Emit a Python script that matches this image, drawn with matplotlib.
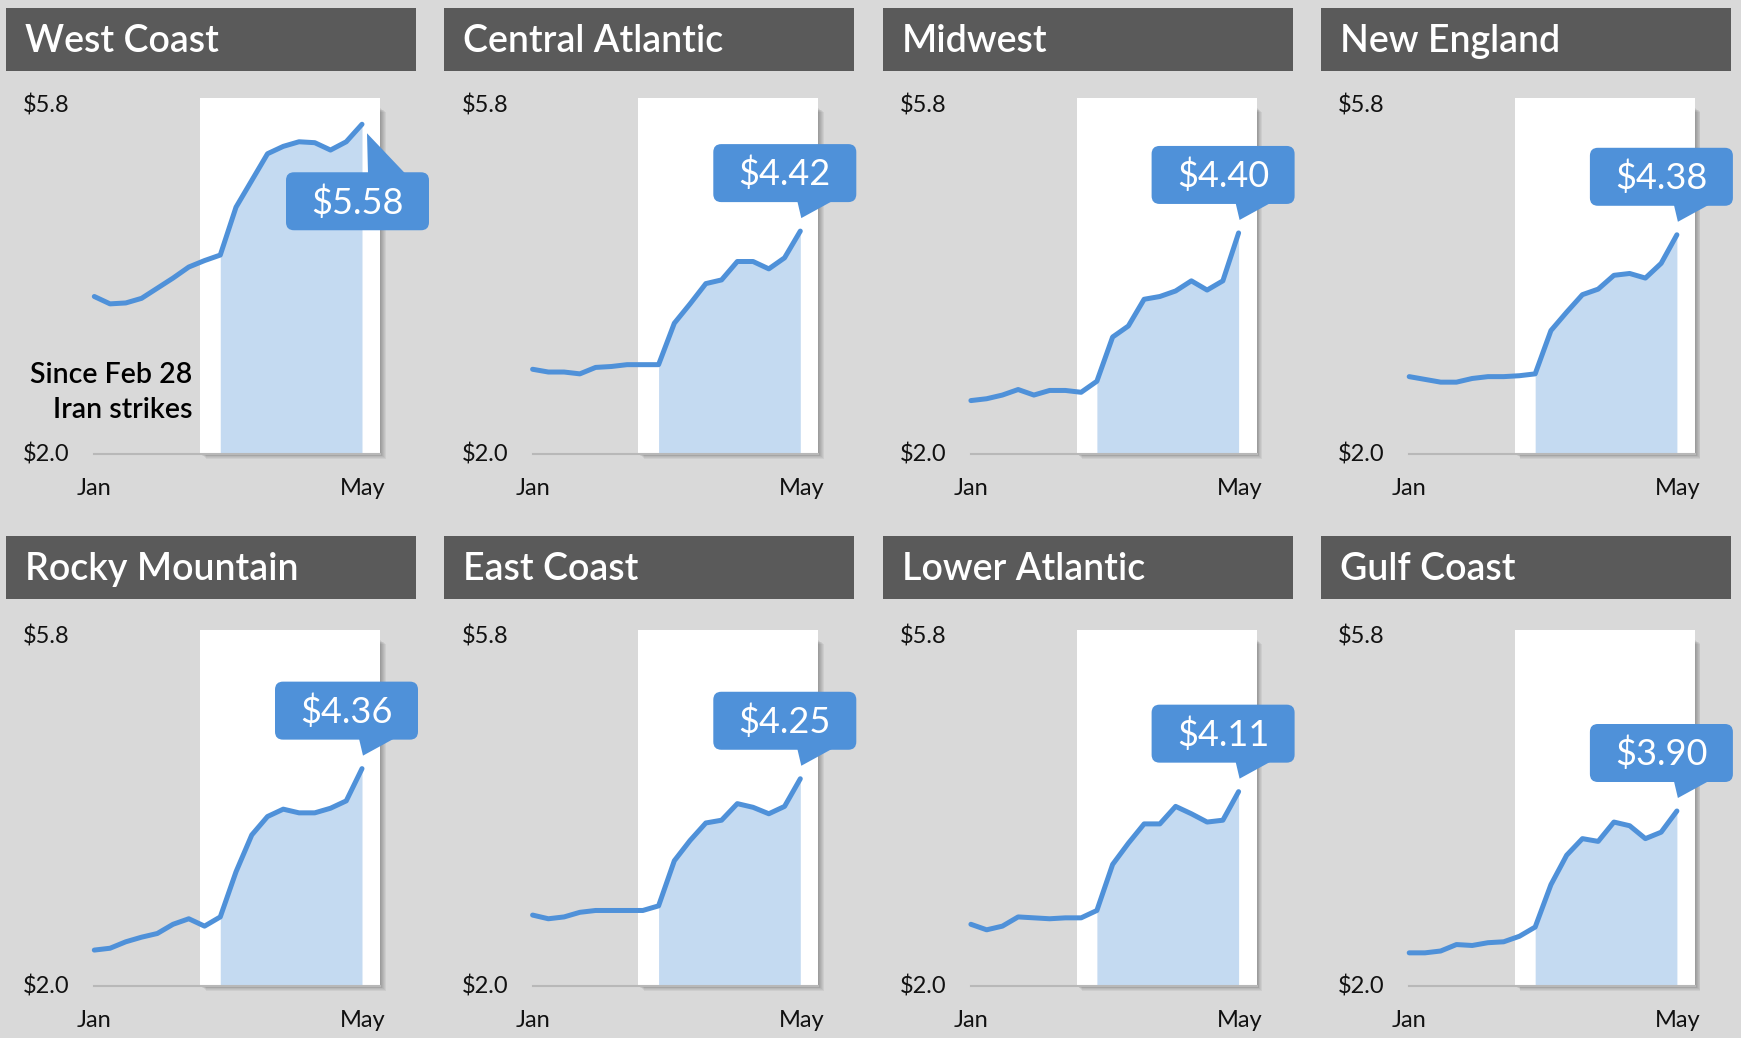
import numpy as np
import matplotlib.pyplot as plt
from matplotlib.patches import Rectangle, FancyBboxPatch, Polygon
from matplotlib.transforms import offset_copy

plt.rcParams['font.family'] = ['Lato', 'DejaVu Sans']

# weekly regional gas prices, Jan -> May
weeks = np.arange(18)
strike_week = 8           # first week after the Feb 28 strikes
highlight = (6.72, 18.15)  # white "since strikes" panel, in weeks

regions = ['West Coast', 'Central Atlantic', 'Midwest', 'New England',
           'Rocky Mountain', 'East Coast', 'Lower Atlantic', 'Gulf Coast']

west_coast = [3.71, 3.63, 3.64, 3.69, 3.80, 3.91, 4.03, 4.10, 4.16,
              4.68, 4.97, 5.26, 5.34, 5.39, 5.38, 5.30, 5.39, 5.58]
central_atlantic = [2.92, 2.89, 2.89, 2.87, 2.94, 2.95, 2.97, 2.97, 2.97,
                    3.42, 3.63, 3.85, 3.89, 4.09, 4.09, 4.01, 4.13, 4.42]
midwest = [2.58, 2.60, 2.64, 2.70, 2.64, 2.69, 2.69, 2.67, 2.79,
           3.27, 3.39, 3.68, 3.71, 3.77, 3.88, 3.78, 3.88, 4.40]
new_england = [2.84, 2.81, 2.78, 2.78, 2.82, 2.84, 2.84, 2.85, 2.87,
               3.34, 3.54, 3.73, 3.79, 3.94, 3.96, 3.91, 4.07, 4.38]
rocky_mountain = [2.39, 2.41, 2.48, 2.53, 2.57, 2.67, 2.73, 2.65, 2.75,
                  3.24, 3.64, 3.84, 3.92, 3.88, 3.88, 3.93, 4.01, 4.36]
east_coast = [2.77, 2.73, 2.75, 2.80, 2.82, 2.82, 2.82, 2.82, 2.87,
              3.36, 3.58, 3.77, 3.80, 3.98, 3.94, 3.87, 3.95, 4.25]
lower_atlantic = [2.67, 2.61, 2.65, 2.75, 2.74, 2.73, 2.74, 2.74, 2.82,
                  3.32, 3.55, 3.76, 3.76, 3.95, 3.87, 3.78, 3.80, 4.11]
gulf_coast = [2.36, 2.36, 2.38, 2.45, 2.44, 2.47, 2.48, 2.54, 2.64,
              3.10, 3.42, 3.60, 3.57, 3.78, 3.74, 3.60, 3.67, 3.90]

prices = [west_coast, central_atlantic, midwest, new_england,
          rocky_mountain, east_coast, lower_atlantic, gulf_coast]

ymin, ymax = 2.0, 5.8
month_labels = ['Jan', 'May']

BG = '#d9d9d9'
BAR = '#5a5a5a'
BLUE = '#4f91d9'
FILL = '#c4daf1'

W, H = 1741, 1038
fig = plt.figure(figsize=(W / 100, H / 100), dpi=100)
fig.patch.set_facecolor(BG)

# pixel-space layers below and above the panels
bg = fig.add_axes([0, 0, 1, 1])
bg.set_xlim(0, W); bg.set_ylim(H, 0); bg.axis('off'); bg.set_zorder(0)
fg = fig.add_axes([0, 0, 1, 1])
fg.set_xlim(0, W); fg.set_ylim(H, 0); fg.axis('off'); fg.set_zorder(3)

for i, (name, vals) in enumerate(zip(regions, prices)):
    col, row = i % 4, i // 4
    x0 = col * 438.3
    ty = 8 + row * 528
    py = row * 532

    bg.add_patch(Rectangle((x0 + 6, ty), 410, 63, fc=BAR, ec='none'))
    bg.text(x0 + 25, ty + 44, name, color='white', fontsize=27,
            fontweight='semibold', va='baseline', ha='left')

    left, right = x0 + 94.3, x0 + 362
    top, bottom = 104 + py, 454 + py
    ax = fig.add_axes([left / W, 1 - bottom / H, (right - left) / W, (bottom - top) / H])
    ax.set_xlim(weeks[0], weeks[-1])
    ax.set_ylim(ymin, ymax)
    ax.axis('off')
    ax.set_zorder(1)

    # white highlight panel with soft shadow
    rtop = ymax + 0.065
    for k in range(1, 7):
        sh = Rectangle((highlight[0], ymin), highlight[1] - highlight[0], rtop - ymin - 0.1,
                       fc='black', ec='none', alpha=0.05, clip_on=False, zorder=0.5,
                       transform=offset_copy(ax.transData, fig=fig, x=k * 0.9, y=-k * 0.8,
                                             units='dots'))
        ax.add_patch(sh)
    ax.add_patch(Rectangle((highlight[0], ymin), highlight[1] - highlight[0], rtop - ymin,
                           fc='white', ec='none', clip_on=False, zorder=1))

    ax.plot([weeks[0], highlight[1]], [ymin, ymin], color='#b8b8b8', lw=1.5,
            clip_on=False, zorder=3)
    ax.fill_between(weeks[strike_week:], ymin, vals[strike_week:], color=FILL,
                    lw=0, zorder=2)
    ax.plot(weeks, vals, color=BLUE, lw=3.6, solid_joinstyle='round',
            solid_capstyle='round', clip_on=False, zorder=4)

    for yv in (ymax, ymin):
        ax.annotate(f'\\${yv:.1f}', xy=(weeks[0], yv), xytext=(-71, -8),
                    textcoords='offset pixels', ha='left', va='baseline',
                    fontsize=17, color='#111111', annotation_clip=False)
    ax.annotate(month_labels[0], xy=(weeks[0], ymin), xytext=(0, -41),
                textcoords='offset pixels', ha='center', va='baseline',
                fontsize=17, color='#111111', annotation_clip=False)
    ax.annotate(month_labels[1], xy=(weeks[-1], ymin), xytext=(1, -41),
                textcoords='offset pixels', ha='center', va='baseline',
                fontsize=17, color='#111111', annotation_clip=False)

    if i == 0:
        for txt, dy in (('Since Feb 28', 71), ('Iran strikes', 36)):
            ax.annotate(txt, xy=(weeks[0], ymin), xytext=(98, dy),
                        textcoords='offset pixels', ha='right', va='baseline',
                        fontsize=20.5, color='black', fontweight='semibold',
                        annotation_clip=False)

    # callout on the last point, drawn in pixel space
    dx, dy = ax.transData.transform((weeks[-1], vals[-1]))
    px, pyy = dx, H - dy
    bw, bh, r = 143, 58, 8
    if i == 0:
        bx, by = px - 76, pyy + 48
        tri = [(px + 5, pyy + 9), (px + 6, by + 1), (px + 43, by + 1)]
    else:
        bx, by = px - 87, pyy - 29 - bh
        tri = [(px - 3, pyy - 30), (px + 32, pyy - 30), (px + 1, pyy - 13)]
    fg.add_patch(FancyBboxPatch((bx + r, by + r), bw - 2 * r, bh - 2 * r,
                                boxstyle=f'round,pad={r},rounding_size={r}',
                                fc=BLUE, ec='none'))
    fg.add_patch(Polygon(tri, closed=True, fc=BLUE, ec='none'))
    fg.text(bx + bw / 2, by + bh / 2 + 1, f'\\${vals[-1]:.2f}', color='white',
            fontsize=26, ha='center', va='center')

fig.savefig('out.png', dpi=100, facecolor=BG)
